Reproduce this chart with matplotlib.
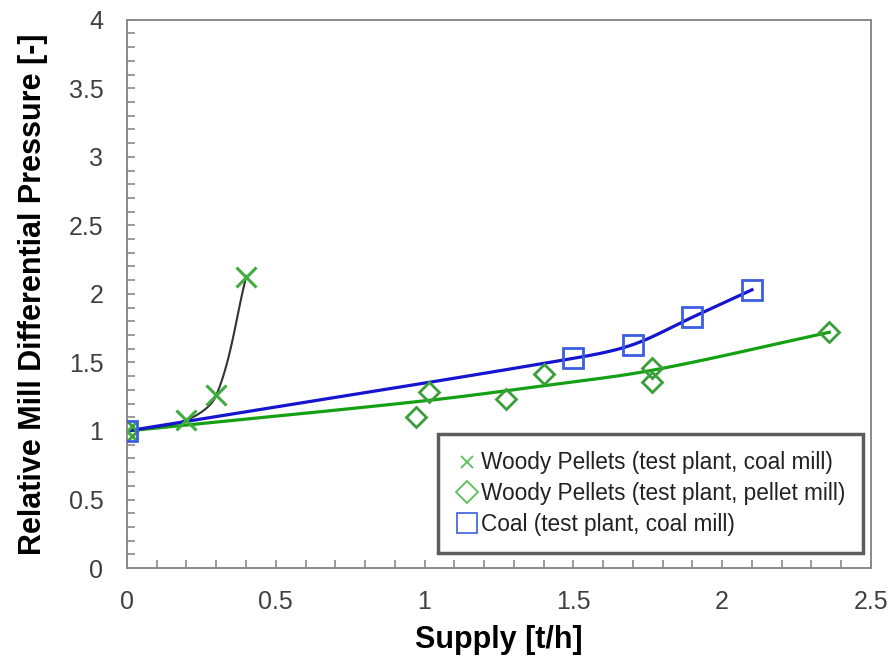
import numpy as np
import matplotlib
matplotlib.use("Agg")
import matplotlib.pyplot as plt
from matplotlib.ticker import MultipleLocator

# ---- data ----
wood_coal_x = [0.0, 0.2, 0.3, 0.4]
wood_coal_y = [1.0, 1.08, 1.26, 2.12]

wood_pellet_x = [0.0, 0.97, 1.015, 1.275, 1.40, 1.765, 1.765, 2.36]
wood_pellet_y = [1.0, 1.10, 1.285, 1.235, 1.415, 1.46, 1.36, 1.725]

coal_x = [0.0, 1.5, 1.7, 1.9, 2.1]
coal_y = [1.0, 1.53, 1.63, 1.83, 2.03]

# trend curve for the pellet-mill series
wood_pellet_fit_x = [0.0, 1.0, 1.4, 1.77, 2.36]
wood_pellet_fit_y = [1.0, 1.22, 1.33, 1.445, 1.72]

labels = ["Woody Pellets (test plant, coal mill)",
          "Woody Pellets (test plant, pellet mill)",
          "Coal (test plant, coal mill)"]


def smooth(ax, xs, ys, n=40):
    """Smoothed line through points (chord-length scaled Bezier), in display space."""
    trans = ax.transData
    p = trans.transform(np.column_stack([xs, ys]).astype(float))
    d = np.linalg.norm(np.diff(p, axis=0), axis=1)
    m = len(p)
    tang = np.zeros_like(p)
    for i in range(m):
        if i == 0:
            tang[i] = (p[1] - p[0]) / d[0]
        elif i == m - 1:
            tang[i] = (p[-1] - p[-2]) / d[-1]
        else:
            tang[i] = (p[i + 1] - p[i - 1]) / (d[i - 1] + d[i])
    out = [p[0]]
    t = np.linspace(0, 1, n)[1:, None]
    for i in range(m - 1):
        p1, p2 = p[i], p[i + 1]
        c1 = p1 + tang[i] * d[i] / 3.0
        c2 = p2 - tang[i + 1] * d[i] / 3.0
        b = ((1 - t) ** 3) * p1 + 3 * ((1 - t) ** 2) * t * c1 + 3 * (1 - t) * t ** 2 * c2 + t ** 3 * p2
        out.extend(b)
    out = trans.inverted().transform(np.array(out))
    return out[:, 0], out[:, 1]


plt.rcParams['font.family'] = ['Liberation Sans', 'DejaVu Sans']

fig = plt.figure(figsize=(8.91, 6.59), dpi=100)
ax = fig.add_axes([0.1425, 0.138, 0.835, 0.832])
ax.set_xlim(0, 2.5)
ax.set_ylim(0, 4)

# lines
sx, sy = smooth(ax, wood_pellet_fit_x, wood_pellet_fit_y)
ax.plot(sx, sy, color="#13a013", lw=2.3, zorder=2)
sx, sy = smooth(ax, coal_x, coal_y)
ax.plot(sx, sy, color="#1515d0", lw=2.3, zorder=3)
sx, sy = smooth(ax, wood_coal_x, wood_coal_y)
ax.plot(sx, sy, color="#333333", lw=1.5, zorder=2)

# markers
h1, = ax.plot(wood_coal_x, wood_coal_y, ls="none", marker="x", ms=15,
              mew=2.2, color="#3fae3f", zorder=4)
h2, = ax.plot(wood_pellet_x, wood_pellet_y, ls="none", marker="D", ms=10,
              mew=2.0, mfc="none", mec="#3a9e3a", zorder=4)
h3, = ax.plot(coal_x, coal_y, ls="none", marker="s", ms=14,
              mew=2.0, mfc="none", mec="#3c5ee0", zorder=5)

ax.xaxis.set_major_locator(MultipleLocator(0.5))
ax.xaxis.set_minor_locator(MultipleLocator(0.1))
ax.yaxis.set_major_locator(MultipleLocator(0.5))
ax.yaxis.set_minor_locator(MultipleLocator(0.1))
ax.xaxis.set_major_formatter(plt.FuncFormatter(lambda v, p: f"{v:g}"))
ax.yaxis.set_major_formatter(plt.FuncFormatter(lambda v, p: f"{v:g}"))

for s in ax.spines.values():
    s.set_color("#8a8a8a")
    s.set_linewidth(1.4)

ax.tick_params(which="both", direction="in", color="#8a8a8a", width=1.2,
               top=False, right=False)
ax.tick_params(which="major", length=6)
ax.tick_params(which="minor", length=6)
ax.tick_params(axis="x", which="major", labelsize=18, labelcolor="#404040", pad=16)
ax.tick_params(axis="y", which="major", labelsize=18, labelcolor="#404040", pad=17)

ax.set_xlabel("Supply [t/h]", fontsize=22, fontweight="bold", labelpad=8)
ax.set_ylabel("Relative Mill Differential Pressure [-]", fontsize=22,
              fontweight="bold", labelpad=15)

# legend handles
lh1 = plt.Line2D([], [], ls="none", marker="x", ms=9, mew=1.3, color="#5cbf5c")
lh2 = plt.Line2D([], [], ls="none", marker="D", ms=11, mew=1.3, mfc="none", mec="#5cbf5c")
lh3 = plt.Line2D([], [], ls="none", marker="s", ms=14, mew=1.3, mfc="none", mec="#4a6ae0")
leg = ax.legend([lh1, lh2, lh3], labels, loc="lower right",
                bbox_to_anchor=(0.989, 0.027), fontsize=16.3, frameon=True,
                fancybox=False, handlelength=1.0, handletextpad=0.15,
                borderpad=0.75, labelspacing=0.35, borderaxespad=0)
leg.get_frame().set_edgecolor("#333333")
leg.get_frame().set_linewidth(2.5)
for t in leg.get_texts():
    t.set_color("#222222")

fig.savefig("out.png", dpi=100)
